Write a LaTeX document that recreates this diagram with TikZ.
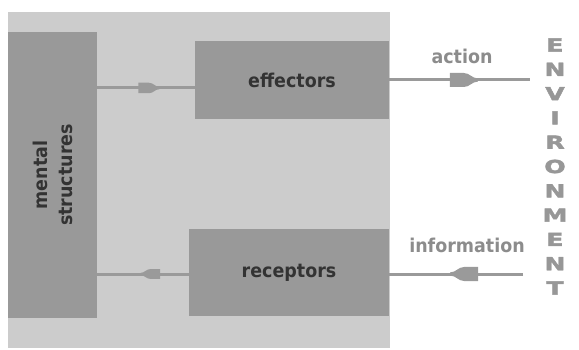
\documentclass[tikz,border=0pt]{standalone}
\usepackage{fontspec}
\setmainfont{DejaVu Sans}
\newfontfamily\blocfont[FakeStretch=0.92]{DejaVu Sans Bold}
\newfontfamily\envfont[FakeStretch=1.4,FakeBold=2.5]{DejaVu Sans Bold}
\usepackage{tikz}
\usetikzlibrary{decorations.markings}

\definecolor{fondgris}{HTML}{CCCCCC}
\definecolor{blocgris}{HTML}{999999}
\definecolor{traitgris}{HTML}{9A9A9A}
\definecolor{textegris}{HTML}{333333}
\definecolor{legendegris}{HTML}{8C8C8C}

\begin{document}
\begin{tikzpicture}[x=1pt,y=-1pt,
	bloc/.style={fill=blocgris,draw=none,inner sep=0pt,font=\fontsize{19}{25}\blocfont,text=textegris},
	liaison/.style 2 args={draw=traitgris,line width=3pt,postaction={decorate},
		decoration={markings,mark=at position #1 with {\fill[traitgris,scale=#2] (-14pt,-7pt) -- (0pt,-7pt) .. controls (6pt,-7pt) and (8pt,-1.6pt) .. (14pt,-1.6pt) -- (14pt,1.6pt) .. controls (8pt,1.6pt) and (6pt,7pt) .. (0pt,7pt) -- (-14pt,7pt) -- cycle;}}},
	legende/.style={font=\fontsize{19}{22}\blocfont,text=legendegris},
	lettre/.style={font=\fontsize{18}{19}\envfont,text=legendegris!90!white,inner sep=0pt}]
	%
	% Cadre et fond
	\useasboundingbox (0,0) rectangle (579,350);
	\fill[fondgris] (8,12) rectangle (390,348);
	%
	% Blocs
	\node[bloc,minimum width=89pt,minimum height=286pt] (mental) at (52.5,175)
		{\rotatebox{90}{\begin{tabular}{@{}c@{}}\rule{0pt}{23pt}mental\\structures\end{tabular}}};
	\node[bloc,minimum width=194pt,minimum height=78pt] (effecteurs) at (292,80) {\raisebox{-3pt}{effectors}};
	\node[bloc,minimum width=200pt,minimum height=87pt] (recepteurs) at (289,272.5) {receptors};
	%
	% Hauteurs des liaisons
	\coordinate (hautint) at (0,88);
	\coordinate (basint) at (0,274);
	\coordinate (hautext) at (530,80);
	\coordinate (basext) at (523,274);
	%
	% Liaisons
	\draw[liaison={0.53}{0.75}] (mental.east |- hautint) -- (effecteurs.west |- hautint);
	\draw[liaison={0.42}{0.7}] (recepteurs.west |- basint) -- (mental.east |- basint);
	\draw[liaison={0.53}{1}] (effecteurs.east |- hautext) -- (hautext);
	\draw[liaison={0.44}{1}] (basext) -- (recepteurs.east |- basext);
	%
	% Legendes
	\node[legende] (action) at (462,56) {action};
	\node[legende] (information) at (467,245) {information};
	%
	% Environnement
	\foreach \lettre [count=\i] in {E,N,V,I,R,O,N,M,E,N,T}
		\node[lettre] (env\i) at (555,{45+24.3*(\i-1)}) {\lettre};
\end{tikzpicture}
\end{document}
